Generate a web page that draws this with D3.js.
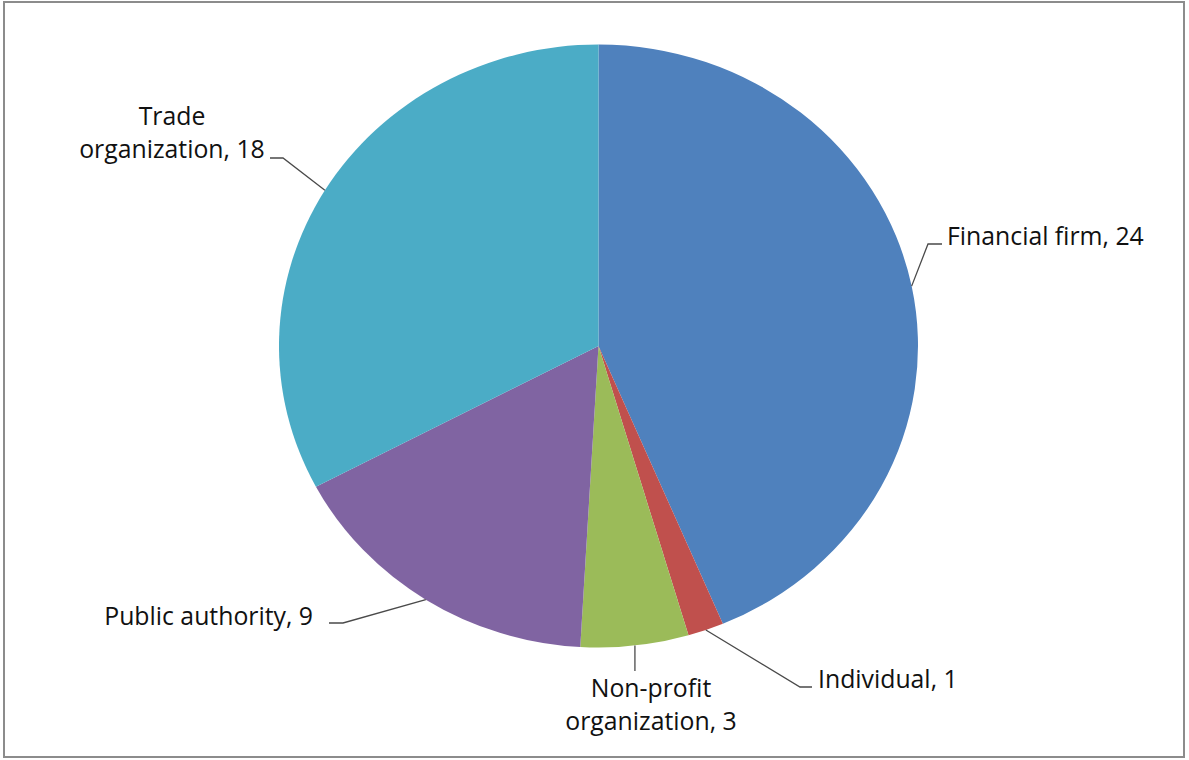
<!DOCTYPE html>
<html>
<head>
<meta charset="utf-8">
<script src="https://cdn.jsdelivr.net/npm/d3@7"></script>
<style>
  html, body { margin: 0; padding: 0; background: #fff; }
  svg { display: block; }
  text { font-family: "Open Sans", Lato, sans-serif; fill: #111; }
</style>
</head>
<body>
<svg id="chart" width="1189" height="760"></svg>
<script>
// Respondent types and counts
const categories = ["Financial firm", "Individual", "Non-profit organization", "Public authority", "Trade organization"];
const counts = [24, 1, 3, 9, 18];
const colors = ["#4F81BD", "#C0504D", "#9BBB59", "#8064A2", "#4BACC6"];

// Label text lines for each slice (category, value)
const labelLines = [
  ["Financial firm, 24"],
  ["Individual, 1"],
  ["Non-profit", "organization, 3"],
  ["Public authority, 9"],
  ["Trade", "organization, 18"]
];

// Label placement: elbow point of the leader, end of its short horizontal run,
// first-line text anchor position and alignment.
const labelLayout = [
  { elbow: [928, 244], end: [942, 244], text: [947, 245], anchor: "start" },
  { elbow: [800, 687], end: [812, 687], text: [818, 688], anchor: "start" },
  { elbow: null,       end: [null, 671], text: [651, 696.5], anchor: "middle" },
  { elbow: [343, 623], end: [329, 623], text: [313, 625], anchor: "end" },
  { elbow: [283, 158], end: [270, 158], text: [172, 124.5], anchor: "middle" }
];

const svg = d3.select("#chart");

// Outer frame
svg.append("rect")
  .attr("x", 4).attr("y", 2)
  .attr("width", 1180).attr("height", 755)
  .attr("fill", "#fff")
  .attr("stroke", "#8c8c8c")
  .attr("stroke-width", 2);

// Pie geometry (slightly wider than tall)
const cx = 598.5, cy = 346, rx = 319.5, ry = 301.5;
const R = 300;

const pie = d3.pie().sort(null).value(d => d)(counts);
const arc = d3.arc().innerRadius(0).outerRadius(R);

const pieG = svg.append("g")
  .attr("transform", `translate(${cx},${cy}) scale(${rx / R},${ry / R})`);

pieG.selectAll("path")
  .data(pie)
  .join("path")
  .attr("d", arc)
  .attr("fill", (d, i) => colors[i]);

// Point on the slice edge at its mid angle
function edgePoint(d) {
  const a = (d.startAngle + d.endAngle) / 2;
  return [cx + rx * Math.sin(a), cy - ry * Math.cos(a)];
}

const lineH = 33.5;
const labels = svg.append("g");

pie.forEach((d, i) => {
  const L = labelLayout[i];
  const p = edgePoint(d);
  const pts = L.elbow ? [p, L.elbow, L.end] : [p, [p[0], L.end[1]]];
  labels.append("path")
    .attr("d", d3.line()(pts))
    .attr("fill", "none")
    .attr("stroke", "#4a4a4a")
    .attr("stroke-width", 1.3);

  const t = labels.append("text")
    .attr("text-anchor", L.anchor)
    .attr("font-size", 24.8);
  labelLines[i].forEach((s, k) => {
    t.append("tspan")
      .attr("x", L.text[0])
      .attr("y", L.text[1] + k * lineH)
      .text(s);
  });
});
</script>
</body>
</html>
